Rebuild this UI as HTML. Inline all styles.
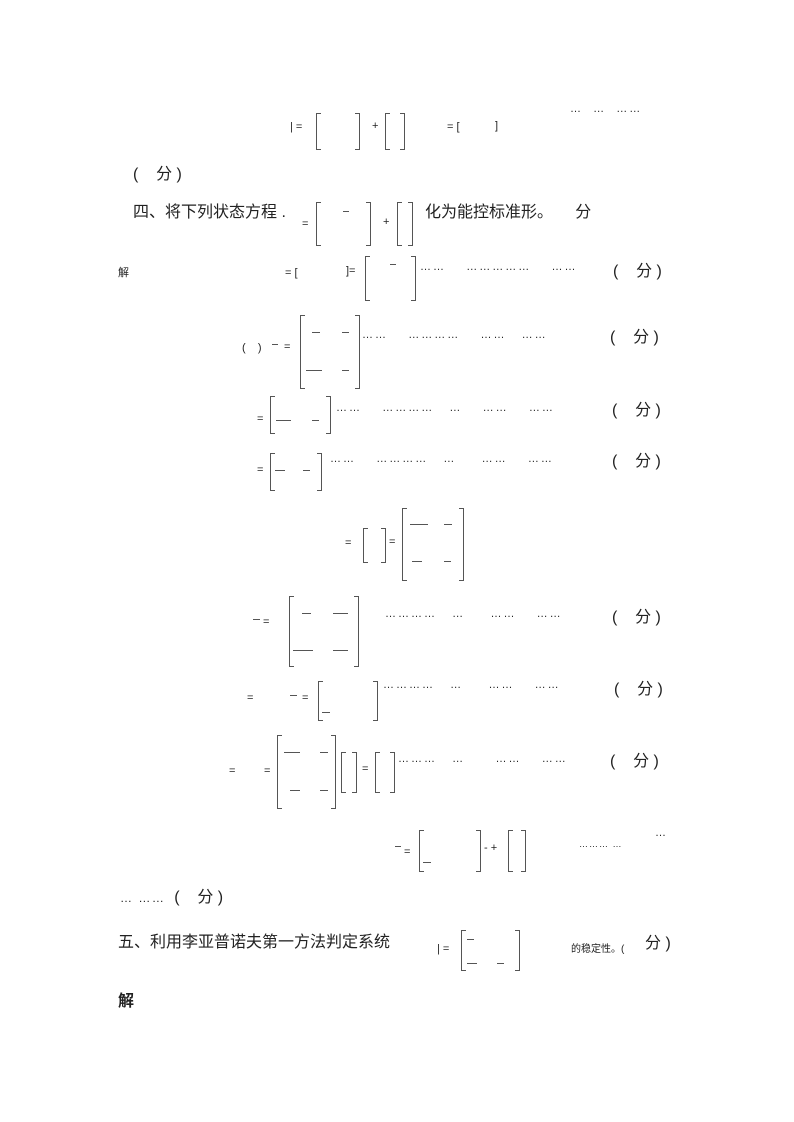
<!DOCTYPE html>
<html><head><meta charset="utf-8"><style>
body{margin:0;width:794px;height:1122px;background:#fff;position:relative;overflow:hidden;font-family:"Liberation Sans","Noto Sans CJK SC",sans-serif;color:#222}
.t{position:absolute;white-space:nowrap;line-height:1}
.L,.R{position:absolute;border:1.4px solid #555;width:5px;box-sizing:border-box}
.L{border-right:none}.R{border-left:none}
.s{font-size:11px}.m{font-size:15px}.b{font-size:16px}
.d{font-size:11px;letter-spacing:2px}
.h{position:absolute;height:1.4px;background:#555}
</style></head><body>
<!-- row1 -->
<div class="t s" style="left:290px;top:122px">| =</div>
<div class="L" style="left:316px;top:113px;height:37px"></div><div class="R" style="left:355px;top:113px;height:37px"></div>
<div class="t s" style="left:372px;top:121px">+</div>
<div class="L" style="left:385px;top:113px;height:37px"></div><div class="R" style="left:400px;top:113px;height:37px"></div>
<div class="t s" style="left:447px;top:122px">= [</div>
<div class="t s" style="left:495px;top:121px">]</div>
<div class="t d" style="left:570px;top:104px">…&nbsp;&nbsp;…&nbsp;&nbsp;……</div>
<div class="t b" style="left:133px;top:167px">(&nbsp;&nbsp;&nbsp;&nbsp;分 )</div>
<!-- 四 -->
<div class="t b" style="left:133px;top:205px">四、将下列状态方程 .</div>
<div class="t s" style="left:302px;top:219px">=</div>
<div class="L" style="left:316px;top:202px;height:44px"></div><div class="R" style="left:366px;top:202px;height:44px"></div>
<div class="h" style="left:343px;top:211px;width:6px"></div>
<div class="t s" style="left:383px;top:217px">+</div>
<div class="L" style="left:397px;top:202px;height:44px"></div><div class="R" style="left:408px;top:202px;height:44px"></div>
<div class="t b" style="left:425px;top:205px">化为能控标准形。&nbsp;&nbsp;&nbsp;&nbsp;&nbsp;分</div>
<div class="t s" style="left:118px;top:268px">解</div>
<!-- row 270 -->
<div class="t s" style="left:285px;top:268px">= [</div>
<div class="t s" style="left:346px;top:266px">]=</div>
<div class="L" style="left:365px;top:256px;height:45px"></div><div class="R" style="left:411px;top:256px;height:45px"></div>
<div class="h" style="left:390px;top:264px;width:6px"></div>
<div class="t d" style="left:420px;top:262px">……&nbsp;&nbsp;&nbsp;&nbsp;……………&nbsp;&nbsp;&nbsp;&nbsp;……</div>
<div class="t b" style="left:613px;top:264px">(&nbsp;&nbsp;&nbsp;&nbsp;分 )</div>
<!-- row 338 -->
<div class="t s" style="left:242px;top:343px">(&nbsp;&nbsp;&nbsp;&nbsp;)</div>
<div class="h" style="left:272px;top:344px;width:6px"></div>
<div class="t s" style="left:284px;top:342px">=</div>
<div class="L" style="left:300px;top:315px;height:74px"></div><div class="R" style="left:355px;top:315px;height:74px"></div>
<div class="h" style="left:312px;top:332px;width:8px"></div><div class="h" style="left:342px;top:332px;width:7px"></div>
<div class="h" style="left:306px;top:370px;width:16px"></div><div class="h" style="left:342px;top:370px;width:7px"></div>
<div class="t d" style="left:362px;top:330px">……&nbsp;&nbsp;&nbsp;&nbsp;…………&nbsp;&nbsp;&nbsp;&nbsp;……&nbsp;&nbsp;&nbsp;……</div>
<div class="t b" style="left:610px;top:330px">(&nbsp;&nbsp;&nbsp;&nbsp;分 )</div>
<!-- row 410 -->
<div class="t s" style="left:257px;top:414px">=</div>
<div class="L" style="left:270px;top:396px;height:38px"></div><div class="R" style="left:326px;top:396px;height:38px"></div>
<div class="h" style="left:276px;top:420px;width:15px"></div><div class="h" style="left:312px;top:420px;width:7px"></div>
<div class="t d" style="left:336px;top:403px">……&nbsp;&nbsp;&nbsp;&nbsp;…………&nbsp;&nbsp;&nbsp;…&nbsp;&nbsp;&nbsp;&nbsp;……&nbsp;&nbsp;&nbsp;&nbsp;……</div>
<div class="t b" style="left:612px;top:403px">(&nbsp;&nbsp;&nbsp;&nbsp;分 )</div>
<!-- row 462 -->
<div class="t s" style="left:257px;top:465px">=</div>
<div class="L" style="left:270px;top:453px;height:38px"></div><div class="R" style="left:317px;top:453px;height:38px"></div>
<div class="h" style="left:275px;top:470px;width:10px"></div><div class="h" style="left:303px;top:470px;width:7px"></div>
<div class="t d" style="left:330px;top:454px">……&nbsp;&nbsp;&nbsp;&nbsp;…………&nbsp;&nbsp;&nbsp;…&nbsp;&nbsp;&nbsp;&nbsp;&nbsp;……&nbsp;&nbsp;&nbsp;&nbsp;……</div>
<div class="t b" style="left:612px;top:454px">(&nbsp;&nbsp;&nbsp;&nbsp;分 )</div>
<!-- row 543 -->
<div class="t s" style="left:345px;top:538px">=</div>
<div class="L" style="left:363px;top:528px;height:35px"></div><div class="R" style="left:381px;top:528px;height:35px"></div>
<div class="t s" style="left:389px;top:537px">=</div>
<div class="L" style="left:402px;top:508px;height:73px"></div><div class="R" style="left:459px;top:508px;height:73px"></div>
<div class="h" style="left:410px;top:524px;width:18px"></div><div class="h" style="left:444px;top:524px;width:8px"></div>
<div class="h" style="left:412px;top:561px;width:10px"></div><div class="h" style="left:444px;top:561px;width:7px"></div>
<!-- row 617 -->
<div class="h" style="left:253px;top:619px;width:7px"></div>
<div class="t s" style="left:263px;top:617px">=</div>
<div class="L" style="left:289px;top:596px;height:71px"></div><div class="R" style="left:354px;top:596px;height:71px"></div>
<div class="h" style="left:302px;top:613px;width:9px"></div><div class="h" style="left:333px;top:613px;width:15px"></div>
<div class="h" style="left:293px;top:650px;width:20px"></div><div class="h" style="left:333px;top:650px;width:15px"></div>
<div class="t d" style="left:385px;top:609px">…………&nbsp;&nbsp;&nbsp;…&nbsp;&nbsp;&nbsp;&nbsp;&nbsp;……&nbsp;&nbsp;&nbsp;&nbsp;……</div>
<div class="t b" style="left:612px;top:610px">(&nbsp;&nbsp;&nbsp;&nbsp;分 )</div>
<!-- row 690 -->
<div class="t s" style="left:247px;top:693px">=</div>
<div class="h" style="left:290px;top:695px;width:7px"></div>
<div class="t s" style="left:302px;top:693px">=</div>
<div class="L" style="left:318px;top:681px;height:40px"></div><div class="R" style="left:373px;top:681px;height:40px"></div>
<div class="h" style="left:322px;top:712px;width:8px"></div>
<div class="t d" style="left:383px;top:680px">…………&nbsp;&nbsp;&nbsp;…&nbsp;&nbsp;&nbsp;&nbsp;&nbsp;……&nbsp;&nbsp;&nbsp;&nbsp;……</div>
<div class="t b" style="left:614px;top:682px">(&nbsp;&nbsp;&nbsp;&nbsp;分 )</div>
<!-- row 762 -->
<div class="t s" style="left:229px;top:766px">=</div>
<div class="t s" style="left:264px;top:766px">=</div>
<div class="L" style="left:277px;top:735px;height:74px"></div><div class="R" style="left:331px;top:735px;height:74px"></div>
<div class="h" style="left:284px;top:752px;width:16px"></div><div class="h" style="left:320px;top:752px;width:8px"></div>
<div class="h" style="left:290px;top:790px;width:10px"></div><div class="h" style="left:320px;top:790px;width:8px"></div>
<div class="L" style="left:341px;top:752px;height:41px"></div><div class="R" style="left:352px;top:752px;height:41px"></div>
<div class="t s" style="left:362px;top:764px">=</div>
<div class="L" style="left:375px;top:752px;height:41px"></div><div class="R" style="left:390px;top:752px;height:41px"></div>
<div class="t d" style="left:398px;top:754px">………&nbsp;&nbsp;&nbsp;…&nbsp;&nbsp;&nbsp;&nbsp;&nbsp;&nbsp;……&nbsp;&nbsp;&nbsp;&nbsp;……</div>
<div class="t b" style="left:610px;top:754px">(&nbsp;&nbsp;&nbsp;&nbsp;分 )</div>
<!-- row 845 -->
<div class="h" style="left:395px;top:846px;width:6px"></div>
<div class="t s" style="left:404px;top:847px">=</div>
<div class="L" style="left:419px;top:830px;height:42px"></div><div class="R" style="left:476px;top:830px;height:42px"></div>
<div class="h" style="left:423px;top:862px;width:8px"></div>
<div class="t s" style="left:484px;top:843px">- +</div>
<div class="L" style="left:508px;top:830px;height:42px"></div><div class="R" style="left:521px;top:830px;height:42px"></div>
<div class="t" style="left:579px;top:840px;font-size:9px;letter-spacing:1px">………  …</div>
<div class="t d" style="left:655px;top:828px">…</div>
<div class="t b" style="left:120px;top:890px"><span style="font-size:12px;letter-spacing:1.5px">… ……</span>&nbsp;&nbsp;(&nbsp;&nbsp;&nbsp;&nbsp;分 )</div>
<!-- 五 -->
<div class="t b" style="left:118px;top:935px">五、利用李亚普诺夫第一方法判定系统</div>
<div class="t s" style="left:437px;top:944px">| =</div>
<div class="L" style="left:461px;top:930px;height:41px"></div><div class="R" style="left:515px;top:930px;height:41px"></div>
<div class="h" style="left:467px;top:939px;width:7px"></div>
<div class="h" style="left:467px;top:963px;width:10px"></div><div class="h" style="left:497px;top:963px;width:7px"></div>
<div class="t" style="left:571px;top:945px;font-size:10px">的稳定性。(</div>
<div class="t b" style="left:645px;top:936px">分 )</div>
<div class="t b" style="left:118px;top:994px;font-weight:bold">解</div>
</body></html>
